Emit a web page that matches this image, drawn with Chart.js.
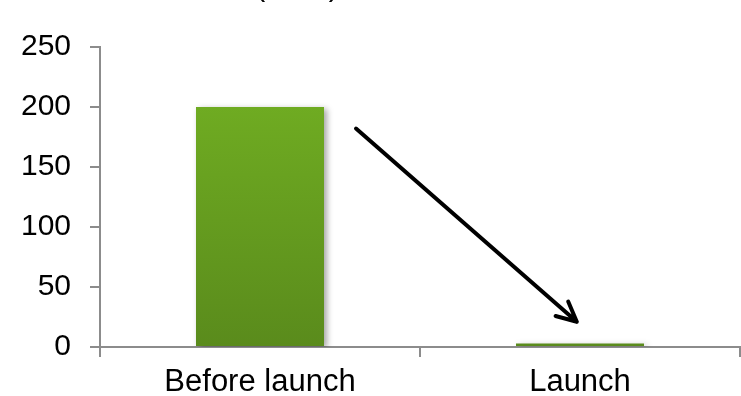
<!DOCTYPE html>
<html>
<head>
<meta charset="utf-8">
<script src="https://cdn.jsdelivr.net/npm/chart.js@4/dist/chart.umd.min.js"></script>
<style>
  html, body { margin: 0; padding: 0; background: #fff; }
  #wrap { width: 741px; height: 396px; position: relative; }
</style>
</head>
<body>
<div id="wrap"><canvas id="chart"></canvas></div>
<script>
// data
const categories = ['Before launch', 'Launch'];
const values = [200, 3];
const yTicks = [0, 50, 100, 150, 200, 250];
const titleText = '(units)';
// arrow drawn in data space: [category index, value]
const arrowFrom = [0.3, 182];
const arrowTo = [0.99, 21];

// bar gradient, lighter at top
function barFill(ctx) {
    const chart = ctx.chart;
    const area = chart.chartArea;
    if (!area) return '#6fac22';
    const g = chart.ctx.createLinearGradient(0, area.top, 0, area.bottom);
    g.addColorStop(0, '#74b323');
    g.addColorStop(1, '#5a8b1c');
    return g;
}

const shadowPlugin = {
    id: 'barShadow',
    beforeDatasetDraw(chart) {
        const c = chart.ctx;
        c.save();
        c.shadowColor = 'rgba(0,0,0,0.35)';
        c.shadowBlur = 6;
        c.shadowOffsetX = 3;
        c.shadowOffsetY = 2;
    },
    afterDatasetDraw(chart) {
        chart.ctx.restore();
    }
};

const extrasPlugin = {
    id: 'extras',
    afterDraw(chart) {
        const c = chart.ctx;
        const x = chart.scales.x, y = chart.scales.y;
        // clipped title at the very top
        c.save();
        c.fillStyle = '#000';
        c.font = '30px "Liberation Sans", Arial, sans-serif';
        c.textAlign = 'center';
        c.textBaseline = 'alphabetic';
        c.fillText(titleText, 297, -4);
        c.restore();

        // arrow
        const x1 = x.getPixelForValue(arrowFrom[0]), y1 = y.getPixelForValue(arrowFrom[1]);
        const x2 = x.getPixelForValue(arrowTo[0]), y2 = y.getPixelForValue(arrowTo[1]);
        const ang = Math.atan2(y2 - y1, x2 - x1);
        const head = 22;
        c.save();
        c.strokeStyle = '#000';
        c.lineWidth = 4;
        c.lineCap = 'round';
        c.lineJoin = 'round';
        c.beginPath();
        c.moveTo(x1, y1);
        c.lineTo(x2, y2);
        c.moveTo(x2 - head * Math.cos(ang - 0.45), y2 - head * Math.sin(ang - 0.45));
        c.lineTo(x2, y2);
        c.lineTo(x2 - head * Math.cos(ang + 0.45), y2 - head * Math.sin(ang + 0.45));
        c.stroke();
        c.restore();
    }
};

const tickFont = { family: '"Liberation Sans", Arial, sans-serif', size: 31 };

new Chart(document.getElementById('chart'), {
    type: 'bar',
    data: {
        labels: categories,
        datasets: [{
            data: values,
            backgroundColor: barFill,
            borderWidth: 0,
            categoryPercentage: 0.4,
            barPercentage: 1
        }]
    },
    options: {
        responsive: true,
        maintainAspectRatio: false,
        animation: false,
        devicePixelRatio: 1,
        layout: { padding: { top: 47, right: 1, left: 0, bottom: 0 } },
        plugins: { legend: { display: false }, tooltip: { enabled: false } },
        scales: {
            x: {
                grid: {
                    offset: true,
                    drawOnChartArea: false,
                    drawTicks: true,
                    tickLength: 10,
                    color: '#8c8c8c',
                    lineWidth: 2
                },
                border: { color: '#8c8c8c', width: 2 },
                ticks: { font: tickFont, color: '#000', padding: 7, maxRotation: 0 },
                afterFit(s) { s.height = 49; }
            },
            y: {
                min: 0,
                max: 250,
                afterBuildTicks(s) { s.ticks = yTicks.map(v => ({ value: v })); },
                grid: {
                    drawOnChartArea: false,
                    drawTicks: true,
                    tickLength: 10,
                    color: '#8c8c8c',
                    lineWidth: 2
                },
                border: { color: '#8c8c8c', width: 2 },
                ticks: { font: { family: tickFont.family, size: 30 }, color: '#000', padding: 19 },
                afterFit(s) { s.width = 100; }
            }
        }
    },
    plugins: [shadowPlugin, extrasPlugin]
});
</script>
</body>
</html>
